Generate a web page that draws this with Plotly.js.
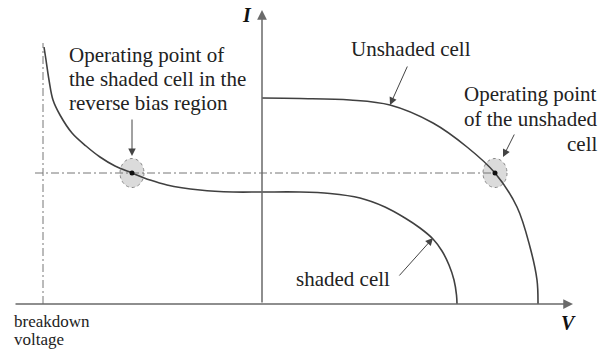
<!DOCTYPE html>
<html>
<head>
<meta charset="utf-8">
<script src="https://cdn.plot.ly/plotly-3.0.1.min.js"></script>
<style>
  html, body { margin: 0; padding: 0; background: #fff; }
  #chart { width: 601px; height: 350px; }
</style>
</head>
<body>
<div id="chart"></div>
<script>
// I-V characteristics (arbitrary units): voltage V and current I
const unshadedV = [0, 3.8, 8.8, 12.8, 17.1, 20.5, 23.3, 25.5, 26.8, 27.5, 27.6];
const unshadedI = [20.6, 20.55, 20.4, 19.9, 18.1, 15.7, 13.1, 9.7, 5.7, 2.4, 0];

const shadedV = [-21.8, -21.6, -21.3, -20.9, -20.2, -19.0, -17.6, -16.2, -14.7, -13.0, -11.2, -9.5, -6.2, -2.9, 0, 3.8, 6.8, 9.8, 12.3, 14.3, 15.8, 17.1, 18.0, 18.7, 19.2, 19.45, 19.5];
const shadedI = [25.7, 24.4, 22.4, 20.4, 18.9, 17.1, 15.8, 14.7, 13.8, 13.1, 12.4, 11.9, 11.4, 11.2, 11.2, 11.2, 11.05, 10.6, 9.7, 8.6, 7.6, 6.5, 5.3, 3.9, 2.4, 0.9, 0];

// Operating points: shaded cell (reverse bias) and unshaded cell
const opV = [-13.0, 23.3];
const opI = [13.1, 13.1];
const opLabels = ['shaded', 'unshaded'];

const breakdownV = -21.9;

const curveColor = '#404040';
const axisColor = '#6a6a6a';
const serif = 'Liberation Serif, Times New Roman, serif';
const textFont = { family: serif, size: 21, color: '#222' };
const smallFont = { family: serif, size: 17, color: '#222' };
const axisLabelFont = { family: serif, size: 20, color: '#111' };

const traces = [
  {
    x: unshadedV, y: unshadedI, mode: 'lines', type: 'scatter',
    line: { color: curveColor, width: 1.6, shape: 'spline', smoothing: 1 },
    hoverinfo: 'skip'
  },
  {
    x: shadedV, y: shadedI, mode: 'lines', type: 'scatter',
    line: { color: curveColor, width: 1.6, shape: 'spline', smoothing: 1 },
    hoverinfo: 'skip'
  },
  {
    // breakdown voltage marker line
    x: [breakdownV, breakdownV], y: [0, 26.1], mode: 'lines', type: 'scatter',
    line: { color: '#777', width: 1, dash: '8px,3px,2px,3px' },
    hoverinfo: 'skip'
  },
  {
    // common current through the string
    x: [-22.7, opV[1]], y: [opI[0], opI[1]], mode: 'lines', type: 'scatter',
    line: { color: '#777', width: 1, dash: '8px,3px,2px,3px' },
    hoverinfo: 'skip'
  }
];

// shaded halo round each operating point
const shapes = opV.map((v, k) => ({
  type: 'circle', xref: 'x', yref: 'y',
  x0: v - 1.2, x1: v + 1.2, y0: opI[k] - 1.45, y1: opI[k] + 1.45,
  fillcolor: 'rgba(200,200,200,0.65)',
  line: { color: '#888', width: 1, dash: 'dot' },
  layer: 'below'
}));

traces.push({
  x: opV, y: opI, text: opLabels, mode: 'markers', type: 'scatter',
  marker: { color: '#111', size: 5 },
  hoverinfo: 'skip'
});

function arrow(x, y, ax, ay, color, width, head, size) {
  return {
    x: x, y: y, ax: ax, ay: ay, xref: 'x', yref: 'y', axref: 'x', ayref: 'y',
    text: '', showarrow: true, arrowhead: head, arrowsize: size,
    arrowwidth: width, arrowcolor: color, standoff: 0, startstandoff: 0
  };
}

function label(text, x, y, xanchor, font) {
  return {
    text: text, x: x, y: y, xref: 'x', yref: 'y', showarrow: false,
    xanchor: xanchor, yanchor: 'middle', font: font || textFont
  };
}

const annotations = [
  // axes
  arrow(31.1, 0, -24.8, 0, axisColor, 1.5, 2, 1.3),
  arrow(0, 29.4, 0, 0, axisColor, 1.5, 2, 1.3),
  // pointers
  arrow(-13.0, 14.8, -13.0, 18.6, '#444', 1, 2, 1.5),
  arrow(12.8, 19.9, 14.6, 23.9, '#444', 1, 2, 1.5),
  arrow(24.1, 14.7, 25.3, 17.1, '#444', 1, 2, 1.5),
  arrow(17.1, 6.6, 13.6, 2.7, '#444', 1, 2, 1.5),
  // text
  label('Operating point of', -19.5, 24.9, 'left'),
  label('the shaded cell in the', -19.5, 22.5, 'left'),
  label('reverse bias region', -19.5, 20.1, 'left'),
  label('Unshaded cell', 8.7, 25.5, 'left'),
  label('Operating point', 33.7, 21.0, 'right'),
  label('of the unshaded', 33.7, 18.5, 'right'),
  label('cell', 33.7, 16.0, 'right'),
  label('shaded cell', 3.2, 2.5, 'left'),
  label('breakdown', -25.0, -1.7, 'left', smallFont),
  label('voltage', -25.0, -3.5, 'left', smallFont),
  label('<b><i>I</i></b>', -1.5, 28.9, 'center', axisLabelFont),
  label('<b><i>V</i></b>', 30.6, -1.9, 'center', axisLabelFont)
];

const layout = {
  width: 601, height: 350,
  margin: { l: 0, r: 0, t: 0, b: 0 },
  paper_bgcolor: '#fff', plot_bgcolor: '#fff',
  showlegend: false,
  xaxis: { range: [-26.2, 33.9], visible: false, fixedrange: true },
  yaxis: { range: [-4.6, 30.4], visible: false, fixedrange: true },
  shapes: shapes,
  annotations: annotations
};

Plotly.newPlot('chart', traces, layout, { displayModeBar: false, staticPlot: true });
</script>
</body>
</html>
